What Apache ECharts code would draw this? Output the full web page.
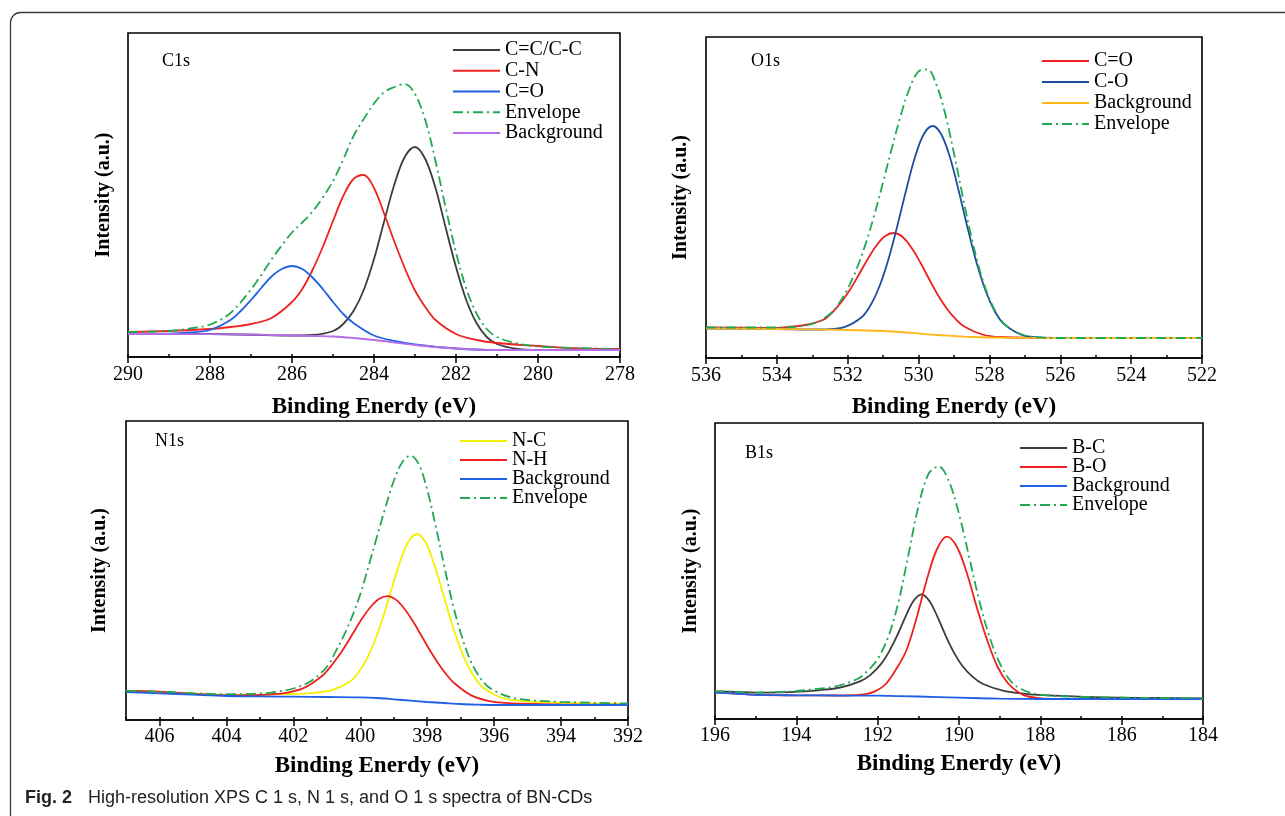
<!DOCTYPE html>
<html>
<head>
<meta charset="utf-8">
<title>XPS spectra of BN-CDs</title>
<script src="https://cdn.jsdelivr.net/npm/echarts@6/dist/echarts.min.js"></script>
<style>
  html, body { margin: 0; padding: 0; background: #fff; }
  #chart { width: 1285px; height: 816px; }
</style>
</head>
<body>
<div id="chart"></div>
<script>
// 数据：[结合能 eV, 强度(a.u.)]，强度按图上读出的相对高度
// ---------- C1s ----------
var c1sCC = [[290,23],[288,23],[286,21.5],[285.5,22],[285,26],[284.75,33],[284.5,46],[284.25,67],[284,98],[283.75,136],[283.5,173],[283.25,200],[283,210],[282.75,198],[282.5,169],[282.25,129],[282,90],[281.75,57],[281.5,34],[281.25,20],[281,13],[280.5,8],[280,7],[278,7]];
var c1sCN = [[290,25],[289,26],[288,28],[287.5,30],[287,33],[286.5,39],[286,55],[285.75,68],[285.5,87],[285.25,110],[285,136],[284.75,161],[284.5,178],[284.25,182],[284,169],[283.75,143],[283.5,115],[283.25,89],[283,66.5],[282.75,50],[282.5,37],[282,23],[281.5,17],[281,14],[280,11],[279,8.5],[278,8]];
var c1sCO = [[290,23],[289,23.3],[288.5,24.5],[288,27],[287.5,37],[287.25,46],[287,57],[286.75,69],[286.5,80.5],[286.25,88],[286,91],[285.75,88],[285.5,79.5],[285.25,68],[285,55],[284.75,43],[284.5,34],[284,21.5],[283.5,16],[283,12.5],[282,8.5],[281,7],[278,7]];
var c1sEnv = [[290,25],[289,26],[288.5,28.5],[288,32.5],[287.5,44],[287,67.5],[286.75,82],[286.5,97.5],[286.25,111.5],[286,124.5],[285.75,134.5],[285.5,145.5],[285.25,159.5],[285,176],[284.75,197.5],[284.5,221],[284.25,238],[284,253.5],[283.75,265],[283.5,270],[283.25,273],[283,263],[282.75,237],[282.5,196],[282.25,149],[282,104.5],[281.75,68.5],[281.5,43.5],[281.25,28],[281,20],[280.5,13.5],[280,10.5],[279,9],[278,8]];
var c1sBg = [[290,23],[289,23],[288,22.8],[287,22.5],[286.5,22],[286,21.5],[285.5,21],[285,20.5],[284.5,19],[284,17],[283.5,14.5],[283,12],[282.5,10],[282,8.5],[281.5,7.5],[281,7],[280,7],[278,7]];

// ---------- O1s ----------
var o1sDouble = [[536,30.5],[535,30.3],[534,30],[533.7,31],[533.2,33],[532.7,38],[532.45,45],[532.2,55],[531.95,67.5],[531.7,82.5],[531.45,98],[531.2,112],[530.95,121.7],[530.7,125],[530.45,121],[530.2,110.3],[529.95,95.5],[529.7,78.8],[529.45,62.7],[529.2,49.2],[528.95,38.8],[528.7,31.3],[528.2,23.5],[527.7,21],[526,20],[522,20]];
var o1sSingle = [[536,29.5],[534,29],[533,28.5],[532.6,28.7],[532.1,30.8],[531.6,41],[531.35,53],[531.1,72],[530.85,98.7],[530.6,132],[530.35,168],[530.1,201],[529.85,224],[529.6,232],[529.35,223],[529.1,199],[528.85,164.7],[528.6,127.7],[528.35,93.7],[528.1,66.5],[527.85,46.8],[527.6,34.4],[527.1,23.3],[526.6,20.5],[526,20],[522,20]];
var o1sBg = [[536,29.5],[534,29],[532,28],[531,27],[530.5,26],[530,24.5],[529.5,23],[529,22],[528.5,21],[528,20.5],[526,20],[522,20]];
var o1sEnv = [[536,30.5],[534,30.5],[533,34],[532.5,44],[532.25,54.4],[532,69.3],[531.75,88.9],[531.5,113.6],[531.25,143],[531,176],[530.75,210.5],[530.5,243],[530.25,270],[530,286.6],[529.75,288.5],[529.5,273.6],[529.25,244.3],[529,204.5],[528.75,161],[528.5,119.5],[528.25,85],[528,59.3],[527.75,42],[527.5,31.5],[527,22.5],[526.5,20.4],[526,20],[522,20]];

// ---------- N1s ----------
var n1sNC = [[407,29],[405,26.5],[404.3,25.3],[403.3,25.2],[402.3,25.9],[401.8,26.3],[401.3,27.4],[400.8,30.3],[400.3,38.7],[400.05,47.8],[399.8,61.4],[399.55,80.7],[399.3,104.8],[399.05,132.7],[398.8,159.1],[398.55,179],[398.3,186],[398.05,177.7],[397.8,156.6],[397.55,129.2],[397.3,100.4],[397.05,75.1],[396.8,55.1],[396.55,40.9],[396.3,31.4],[395.8,22.5],[395.3,19.4],[394.8,18.2],[394.3,17.5],[393.3,16.6],[392,16.1]];
var n1sNH = [[407,29],[406,28.3],[405,26.2],[404.18,24.9],[403.18,25],[402.68,25.6],[402.18,27.4],[401.68,32.1],[401.18,43],[400.93,51.6],[400.68,62.4],[400.43,75],[400.18,88.8],[399.93,102.2],[399.68,113.5],[399.43,121.2],[399.18,123.8],[398.93,120.1],[398.68,111.3],[398.43,98.9],[398.18,84.7],[397.93,70.2],[397.68,57.1],[397.43,45.7],[397.18,36.5],[396.68,24.6],[396.18,19.2],[395.68,17.2],[395.18,16.4],[394,15.6],[392,15.4]];
var n1sBg = [[407,28],[406,26.7],[405,25.3],[404,24],[403,23.6],[402,23.3],[401,23],[400,22.7],[399.5,22],[399,20.7],[398.5,19.3],[398,18],[397.5,17],[397,16],[396.5,15.4],[396,15],[392,15]];
var n1sEnv = [[407,29.2],[406,28.3],[405,26.8],[404,25.8],[403,26.5],[402.5,28.3],[402,31.5],[401.5,38.5],[401,53],[400.75,67.6],[400.5,83.9],[400.25,102.8],[400,125.7],[399.75,154.1],[399.5,183.5],[399.25,212.4],[399,239],[398.75,257.6],[398.5,264.3],[398.25,255.7],[398,230],[397.75,194.6],[397.5,155.4],[397.25,117.8],[397,87.3],[396.75,62.9],[396.5,46.3],[396.25,35.4],[396,29.4],[395.5,22.6],[395,20],[394,18.1],[393,17.2],[392,16.5]];

// ---------- B1s ----------
var b1sBC = [[196,27.7],[195.5,27.2],[194.92,26.3],[194.42,26.6],[193.92,27.4],[193.42,28.9],[192.92,31.5],[192.42,37.8],[192.17,44.4],[191.92,54.9],[191.72,67.4],[191.52,83.5],[191.32,101.8],[191.12,117.9],[190.92,124.7],[190.72,117.6],[190.52,101.3],[190.32,82.6],[190.12,66.1],[189.92,53.3],[189.67,42.3],[189.42,35.3],[188.92,28.3],[188.42,25.4],[187.92,23.8],[186.92,22.2],[185.92,21.4],[184,20.7]];
var b1sBO = [[196,26.3],[195.5,25.5],[195,24.2],[194,23.7],[193,23.5],[192.8,23.5],[192.3,24.8],[192.05,27.9],[191.8,35],[191.55,49.5],[191.3,68],[191.05,100],[190.8,138],[190.55,169],[190.3,182.3],[190.05,172],[189.8,145],[189.55,110],[189.3,78],[189.05,52],[188.8,36],[188.55,27],[188.3,22.5],[187.8,20],[184,20]];
var b1sBg = [[196,26.3],[195.5,25.5],[195,24.2],[194.5,23.8],[194,23.7],[193,23.5],[192,23.3],[191,22.5],[190,21.3],[189,20.3],[188,20],[184,20]];
var b1sEnv = [[196,27.7],[195.5,27.2],[195,26.4],[194.5,26.8],[194,28],[193.5,30],[193,33],[192.5,40],[192.25,48],[192,60],[191.75,81],[191.5,115],[191.25,163],[191,212],[190.75,245],[190.5,252.5],[190.25,238],[190,205],[189.75,162],[189.5,118],[189.25,82],[189,56],[188.75,39],[188.5,30.5],[188,24.3],[187,22.2],[186,21.4],[184,20.7]];

var SERIF = '"Liberation Serif","Times New Roman",serif';
var SANS = '"Liberation Sans",Arial,sans-serif';
var GREEN = '#22a853';
var DASHDOT = [10, 4, 2, 4];

/*
每个小图：
box  , 绘图区 [left, top, width, height]
legend , 图例左上角
*/
var panels = [
  {key: 'C1s', min: 278, max: 290, box: [128, 33, 492, 324], legend: [452, 40], gap: 0.75, label: [162, 52], yGap: 14, xGap: 39, margin: 8,
   curves: [['C=C/C-C', c1sCC, '#3d3d3d'], ['C-N', c1sCN, '#ee2424'], ['C=O', c1sCO, '#2160e6'], ['Envelope', c1sEnv, GREEN, true], ['Background', c1sBg, '#b56de8']]},
  {key: 'O1s', min: 522, max: 536, box: [706, 37, 496, 321], legend: [1041, 51], gap: 1, label: [751, 52], yGap: 15, xGap: 38, margin: 8,
   curves: [['C=O', o1sDouble, '#ee2020'], ['C-O', o1sSingle, '#1f4e9e'], ['Background', o1sBg, '#ffb81c'], ['Envelope', o1sEnv, GREEN, true]]},
  {key: 'N1s', min: 392, max: 407, box: [126, 421, 502, 299], legend: [459, 431], gap: -1, label: [155, 432], yGap: 16, xGap: 35, margin: 7,
   curves: [['N-C', n1sNC, '#f2f200'], ['N-H', n1sNH, '#ee2020'], ['Background', n1sBg, '#2160e6'], ['Envelope', n1sEnv, GREEN, true]]},
  {key: 'B1s', min: 184, max: 196, box: [715, 423, 488, 296], legend: [1019, 438], gap: -1, label: [745, 444], yGap: 14, xGap: 34, margin: 7,
   curves: [['B-C', b1sBC, '#3d3d3d'], ['B-O', b1sBO, '#ee2020'], ['Background', b1sBg, '#2160e6'], ['Envelope', b1sEnv, GREEN, true]]}
];

function xpsChart(element) {
  var obj = new Object;
  obj.myChart = echarts.init(document.getElementById(element), null, {renderer: 'canvas'});
  obj.option = {
    backgroundColor: '#fff',
    animation: false,
    grid: [], xAxis: [], yAxis: [], series: [], legend: [],
    title: [],
    graphic: [{
      type: 'rect', silent: true, z: -10,
      shape: {x: 10.5, y: 12.5, width: 1400, height: 1000, r: 10},
      style: {fill: 'none', stroke: '#3a3a3a', lineWidth: 1.3}
    }]
  };
  panels.forEach(function (p, i) {
    var b = p.box;
    obj.option.grid.push({left: b[0], top: b[1], width: b[2], height: b[3], show: true, borderColor: '#000', borderWidth: 1.6, backgroundColor: 'transparent'});
    // 主刻度（带标签）
    obj.option.xAxis.push({
      gridIndex: i, type: 'value', inverse: true, min: p.min, max: p.max, interval: 2,
      axisLine: {show: true, onZero: false, lineStyle: {color: '#000', width: 1.6}},
      axisTick: {show: true, inside: false, length: 6, lineStyle: {color: '#000', width: 1.5}},
      axisLabel: {color: '#000', fontFamily: SERIF, fontSize: 20, margin: p.margin, showMinLabel: true, showMaxLabel: p.max % 2 === 0},
      splitLine: {show: false},
      name: 'Binding Enerdy (eV)', nameLocation: 'middle', nameGap: p.xGap,
      nameTextStyle: {fontFamily: SERIF, fontWeight: 'bold', fontSize: 23, color: '#000'}
    });
    // 次刻度
    obj.option.xAxis.push({
      gridIndex: i, type: 'value', inverse: true, min: p.min, max: p.max, interval: 1,
      axisLine: {show: false}, axisLabel: {show: false}, splitLine: {show: false},
      axisTick: {show: true, inside: false, length: 3, lineStyle: {color: '#000', width: 1.5}}
    });
    obj.option.yAxis.push({
      gridIndex: i, type: 'value', min: 0, max: b[3],
      axisLine: {show: false}, axisTick: {show: false}, axisLabel: {show: false}, splitLine: {show: false},
      name: 'Intensity (a.u.)', nameLocation: 'middle', nameRotate: 90, nameGap: p.yGap,
      nameTextStyle: {fontFamily: SERIF, fontWeight: 'bold', fontSize: 20, color: '#000'}
    });
    var names = [];
    p.curves.forEach(function (c) {
      var name = p.key + ':' + c[0];
      names.push(name);
      obj.option.series.push({
        type: 'line', name: name, xAxisIndex: i * 2, yAxisIndex: i,
        data: c[1], smooth: 0.35, symbol: 'none', silent: true, color: c[2],
        lineStyle: {color: c[2], width: 1.8, type: c[3] ? DASHDOT : 'solid'}
      });
    });
    obj.option.legend.push({
      orient: 'vertical', left: p.legend[0], top: p.legend[1], padding: 0,
      itemWidth: 47, itemHeight: 20, itemGap: p.gap, selectedMode: false,
      data: names,
      formatter: function (n) { return n.split(':')[1]; },
      itemStyle: {opacity: 0},
      textStyle: {fontFamily: SERIF, fontSize: 20, color: '#000', lineHeight: 20}
    });
    obj.option.title.push({
      text: p.key, left: p.label[0], top: p.label[1], padding: 0,
      textStyle: {fontFamily: SERIF, fontSize: 18, fontWeight: 'normal', color: '#000'}
    });
  });
  // 图注
  obj.option.title.push({
    text: 'Fig. 2', left: 25, top: 789, padding: 0,
    textStyle: {fontFamily: SANS, fontSize: 18, fontWeight: 'bold', color: '#222'}
  });
  obj.option.title.push({
    text: 'High-resolution XPS C 1 s, N 1 s, and O 1 s spectra of BN-CDs', left: 88, top: 789, padding: 0,
    textStyle: {fontFamily: SANS, fontSize: 18, fontWeight: 'normal', color: '#222'}
  });
  obj.myChart.setOption(obj.option);
  return obj;
}

var chart = xpsChart('chart');
</script>
</body>
</html>
